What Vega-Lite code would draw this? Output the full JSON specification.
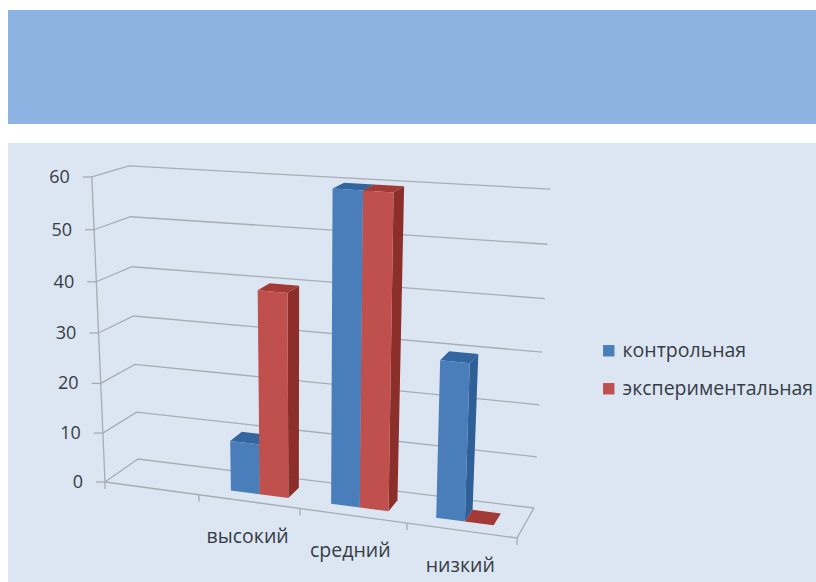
{"$schema":"https://vega.github.io/schema/vega-lite/v6.json","background":"#ffffff","padding":{"left":8,"top":10,"right":0,"bottom":0},"spacing":19,"config":{"font":"Open Sans","concat":{"spacing":19}},"datasets":{"bars":[{"уровень":"высокий","группа":"контрольная","значение":10},{"уровень":"высокий","группа":"экспериментальная","значение":40},{"уровень":"средний","группа":"контрольная","значение":60},{"уровень":"средний","группа":"экспериментальная","значение":60},{"уровень":"низкий","группа":"контрольная","значение":30},{"уровень":"низкий","группа":"экспериментальная","значение":0}],"ticks":[{"v":0},{"v":10},{"v":20},{"v":30},{"v":40},{"v":50},{"v":60}],"cats":[{"a":0},{"a":0.228},{"a":0.473},{"a":0.733},{"a":1}],"labels":[{"уровень":"высокий"},{"уровень":"средний"},{"уровень":"низкий"}]},"vconcat":[{"width":808,"height":114,"view":{"fill":"#8db3e2","stroke":null},"data":{"values":[{}]},"mark":{"type":"rect","opacity":0},"encoding":{}},{"width":808,"height":439,"view":{"fill":"#dce6f2","stroke":null},"layer":[{"data":{"name":"ticks"},"transform":[{"calculate":"[{k:0,a:0,d:0},{k:1,a:0,d:1},{k:2,a:1,d:1}]","as":"c"},{"flatten":["c"]},{"calculate":"105+412*datum.c.a+33*datum.c.d-16*datum.c.a*datum.c.d+datum.v*(-0.22+0.42*datum.c.a+0.07*datum.c.d)","as":"px"},{"calculate":"482+56*datum.c.a-23*datum.c.d-7*datum.c.a*datum.c.d-datum.v*(4.85+0.43*datum.c.a-0.2*datum.c.d)-0.0039*datum.v*datum.v","as":"py"},{"calculate":"datum.c.k","as":"k"}],"mark":{"type":"line","color":"#a7acb3","strokeWidth":1.3},"encoding":{"x":{"field":"px","type":"quantitative","scale":{"domain":[8,816],"nice":false,"zero":false},"axis":null},"y":{"field":"py","type":"quantitative","scale":{"domain":[582,143],"nice":false,"zero":false},"axis":null},"detail":{"field":"v"},"order":{"field":"k","type":"quantitative"}}},{"data":{"values":[{"линия":"стена","k":0,"a":0,"d":0,"v":60},{"линия":"стена","k":1,"a":0,"d":0,"v":0},{"линия":"пол","k":0,"a":0,"d":0,"v":0},{"линия":"пол","k":1,"a":1,"d":0,"v":0},{"линия":"пол","k":2,"a":1,"d":1,"v":0}]},"transform":[{"calculate":"105+412*datum.a+33*datum.d-16*datum.a*datum.d+datum.v*(-0.22+0.42*datum.a+0.07*datum.d)","as":"px"},{"calculate":"482+56*datum.a-23*datum.d-7*datum.a*datum.d-datum.v*(4.85+0.43*datum.a-0.2*datum.d)-0.0039*datum.v*datum.v","as":"py"}],"mark":{"type":"line","color":"#a7acb3","strokeWidth":1.3},"encoding":{"x":{"field":"px","type":"quantitative","axis":null},"y":{"field":"py","type":"quantitative","axis":null},"detail":{"field":"линия"},"order":{"field":"k","type":"quantitative"}}},{"data":{"name":"ticks"},"transform":[{"calculate":"105+datum.v*(-0.22)","as":"px"},{"calculate":"datum.px-9","as":"px2"},{"calculate":"482-datum.v*4.85-0.0039*datum.v*datum.v","as":"py"}],"mark":{"type":"rule","color":"#a7acb3","strokeWidth":1.3},"encoding":{"x":{"field":"px","type":"quantitative","axis":null},"x2":{"field":"px2"},"y":{"field":"py","type":"quantitative","axis":null}}},{"data":{"name":"ticks"},"transform":[{"calculate":"105+datum.v*(-0.22)-22","as":"px"},{"calculate":"483-datum.v*4.85-0.0039*datum.v*datum.v","as":"py"}],"mark":{"type":"text","align":"right","baseline":"middle","fontSize":18,"color":"#353c45"},"encoding":{"x":{"field":"px","type":"quantitative","axis":null},"y":{"field":"py","type":"quantitative","axis":null},"text":{"field":"v","type":"quantitative"}}},{"data":{"name":"cats"},"transform":[{"calculate":"105+412*datum.a","as":"px"},{"calculate":"482+56*datum.a","as":"py"},{"calculate":"datum.py+7","as":"py2"}],"mark":{"type":"rule","color":"#a7acb3","strokeWidth":1.3},"encoding":{"x":{"field":"px","type":"quantitative","axis":null},"y":{"field":"py","type":"quantitative","axis":null},"y2":{"field":"py2"}}},{"data":{"name":"bars"},"transform":[{"calculate":"{'высокий':0.285,'средний':0.531,'низкий':0.789}[datum['уровень']]+(datum['группа']==='контрольная'?0:0.0705)","as":"a0"},{"calculate":"[{f:'side',k:0,s:1,e:0,t:0},{f:'side',k:1,s:1,e:1,t:0},{f:'side',k:2,s:1,e:1,t:1},{f:'side',k:3,s:1,e:0,t:1},{f:'top',k:0,s:0,e:0,t:1},{f:'top',k:1,s:1,e:0,t:1},{f:'top',k:2,s:1,e:1,t:1},{f:'top',k:3,s:0,e:1,t:1},{f:'front',k:0,s:0,e:0,t:0},{f:'front',k:1,s:1,e:0,t:0},{f:'front',k:2,s:1,e:0,t:1},{f:'front',k:3,s:0,e:0,t:1}]","as":"c"},{"flatten":["c"]},{"calculate":"datum.a0+0.0705*datum.c.s","as":"a"},{"calculate":"0.3+0.4*datum.c.e","as":"d"},{"calculate":"datum['значение']*datum.c.t","as":"v"},{"calculate":"105+412*datum.a+33*datum.d-16*datum.a*datum.d+datum.v*(-0.22+0.42*datum.a+0.07*datum.d)","as":"px"},{"calculate":"482+56*datum.a-23*datum.d-7*datum.a*datum.d-datum.v*(4.85+0.43*datum.a-0.2*datum.d)-0.0039*datum.v*datum.v","as":"py"},{"calculate":"datum.c.f==='front'?datum['группа']:datum['группа']+' '+datum.c.f","as":"грань"},{"calculate":"datum['уровень']+datum['группа']+datum.c.f","as":"id"},{"calculate":"datum.c.k","as":"k"}],"mark":{"type":"line","strokeWidth":0,"interpolate":"linear-closed"},"encoding":{"x":{"field":"px","type":"quantitative","axis":null},"y":{"field":"py","type":"quantitative","axis":null},"detail":{"field":"id"},"order":{"field":"k","type":"quantitative"},"fill":{"field":"грань","type":"nominal","scale":{"domain":["контрольная","экспериментальная","контрольная side","экспериментальная side","контрольная top","экспериментальная top"],"range":["#4a7ebb","#c0504d","#2e5f97","#8c2f2b","#33669e","#a33a36"]},"legend":{"values":["контрольная","экспериментальная"],"title":null,"orient":"none","legendX":591,"legendY":331,"symbolType":"square","symbolSize":130,"symbolStrokeWidth":0,"labelFontSize":19.5,"labelColor":"#353c45","rowPadding":17,"labelOffset":4,"labelLimit":300}}}},{"data":{"name":"labels"},"transform":[{"calculate":"{'высокий':0.356,'средний':0.605,'низкий':0.872}[datum['уровень']]","as":"a"},{"calculate":"105+412*datum.a-4","as":"px"},{"calculate":"482+56*datum.a+35","as":"py"}],"mark":{"type":"text","align":"center","baseline":"middle","fontSize":19.5,"color":"#353c45"},"encoding":{"x":{"field":"px","type":"quantitative","axis":null},"y":{"field":"py","type":"quantitative","axis":null},"text":{"field":"уровень"}}}]}]}
